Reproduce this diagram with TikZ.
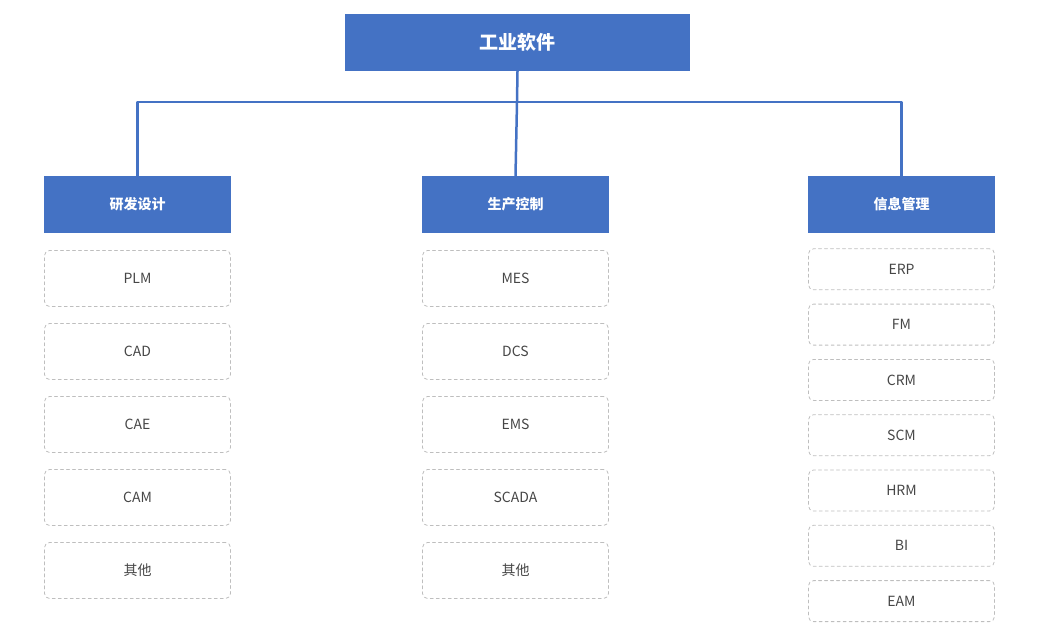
\documentclass[tikz,border=0pt]{standalone}
\usepackage{fontspec}
\setmainfont{Noto Sans CJK SC}
\definecolor{hdblue}{RGB}{68,114,196}
\definecolor{itemgray}{RGB}{190,190,190}
\definecolor{txtgray}{RGB}{70,70,70}
\begin{document}
\begin{tikzpicture}[x=1pt,y=-1pt,line cap=round,line join=round,
  topbox/.style={fill=hdblue,text=white,minimum width=345pt,minimum height=57pt,font=\fontsize{19}{22}\selectfont\bfseries},
  catbox/.style={fill=hdblue,text=white,minimum width=187pt,minimum height=57pt,font=\fontsize{14}{17}\selectfont\bfseries},
  itembox/.style={draw=itemgray,dashed,rounded corners=5pt,line width=0.8pt,text=txtgray,minimum width=186pt,font=\fontsize{14}{17}\selectfont},
  link/.style={draw=hdblue,line width=2.5pt}]
\useasboundingbox (0,0) rectangle (1052,634);
\node[topbox] (top) at (517.5,42.5) {工业软件};
\node[catbox] (rd) at (137.5,204.5) {研发设计};
\node[catbox] (pc) at (515.5,204.5) {生产控制};
\node[catbox] (im) at (901.5,204.5) {信息管理};
\coordinate (bar) at (517,102);
\draw[link] (top.south) -- (bar);
\draw[link] (rd.north) |- (bar) -| (im.north);
\draw[link] (bar) -- (pc.north);
% research & design
\foreach \t [count=\i] in {PLM,CAD,CAE,CAM,其他}
  \node[itembox,minimum height=56pt] (rd\i) at (137.5,205.5+73*\i) {\t};
% production control
\foreach \t [count=\i] in {MES,DCS,EMS,SCADA,其他}
  \node[itembox,minimum height=56pt] (pc\i) at (515.5,205.5+73*\i) {\t};
% information management
\foreach \t [count=\i] in {ERP,FM,CRM,SCM,HRM,BI,EAM}
  \node[itembox,minimum height=41pt] (im\i) at (901.5,214+55.3*\i) {\t};
\end{tikzpicture}
\end{document}
